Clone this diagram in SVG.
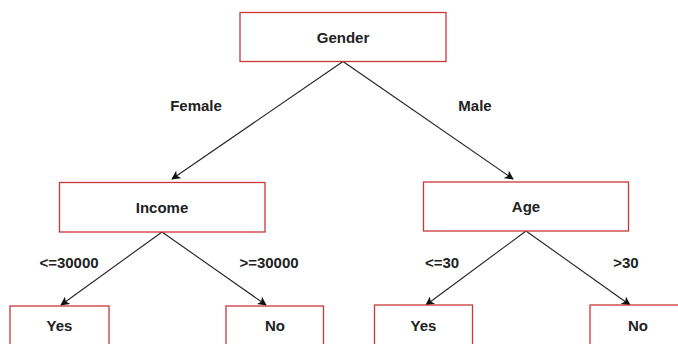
<svg xmlns="http://www.w3.org/2000/svg" width="678" height="344" viewBox="0 0 678 344">
  <style>
    .box { fill: #ffffff; stroke: #c8383a; stroke-width: 1.3; }
    .lbl { font-family: "Liberation Sans", Arial, sans-serif; font-size: 15px; font-weight: bold; fill: #222222; text-anchor: middle; dominant-baseline: central; }
    .edge { stroke: #222222; stroke-width: 1.1; fill: none; marker-end: url(#arrow); }
  </style>
  <defs>
    <marker id="arrow" viewBox="0 0 10 10" refX="9" refY="5" markerWidth="9" markerHeight="9" markerUnits="userSpaceOnUse" orient="auto">
      <path d="M0,0 L10,5 L0,10 L2.5,5 Z" fill="#111111"/>
    </marker>
  </defs>
  <rect width="678" height="344" fill="#ffffff"/>

  <g id="connectors">
    <line class="edge" x1="343" y1="61.5" x2="172" y2="179"/>
    <line class="edge" x1="343" y1="61.5" x2="513" y2="179"/>
    <line class="edge" x1="162" y1="232" x2="61" y2="305"/>
    <line class="edge" x1="162" y1="232" x2="266" y2="305"/>
    <line class="edge" x1="526" y1="231" x2="426" y2="305"/>
    <line class="edge" x1="526" y1="231" x2="630" y2="305"/>
    <text class="lbl" x="196" y="105">Female</text>
    <text class="lbl" x="475" y="105">Male</text>
    <text class="lbl" x="69" y="262">&lt;=30000</text>
    <text class="lbl" x="269" y="262">&gt;=30000</text>
    <text class="lbl" x="442" y="262">&lt;=30</text>
    <text class="lbl" x="626" y="262">&gt;30</text>
  </g>

  <g id="gender">
    <rect class="box" x="240" y="12.5" width="206" height="49"/>
    <text class="lbl" x="343" y="37">Gender</text>
  </g>
  <g id="income">
    <rect class="box" x="59.5" y="182.5" width="205.5" height="49.5"/>
    <text class="lbl" x="162" y="207">Income</text>
  </g>
  <g id="age">
    <rect class="box" x="423.5" y="182" width="205" height="49"/>
    <text class="lbl" x="526" y="206.5">Age</text>
  </g>
  <g id="income-yes">
    <rect class="box" x="10" y="306" width="99" height="50"/>
    <text class="lbl" x="59.5" y="325">Yes</text>
  </g>
  <g id="income-no">
    <rect class="box" x="226" y="306" width="97.5" height="50"/>
    <text class="lbl" x="275" y="325">No</text>
  </g>
  <g id="age-yes">
    <rect class="box" x="374.5" y="305" width="98" height="50"/>
    <text class="lbl" x="423.5" y="325">Yes</text>
  </g>
  <g id="age-no">
    <rect class="box" x="590" y="305" width="98" height="50"/>
    <text class="lbl" x="638" y="325">No</text>
  </g>
</svg>
